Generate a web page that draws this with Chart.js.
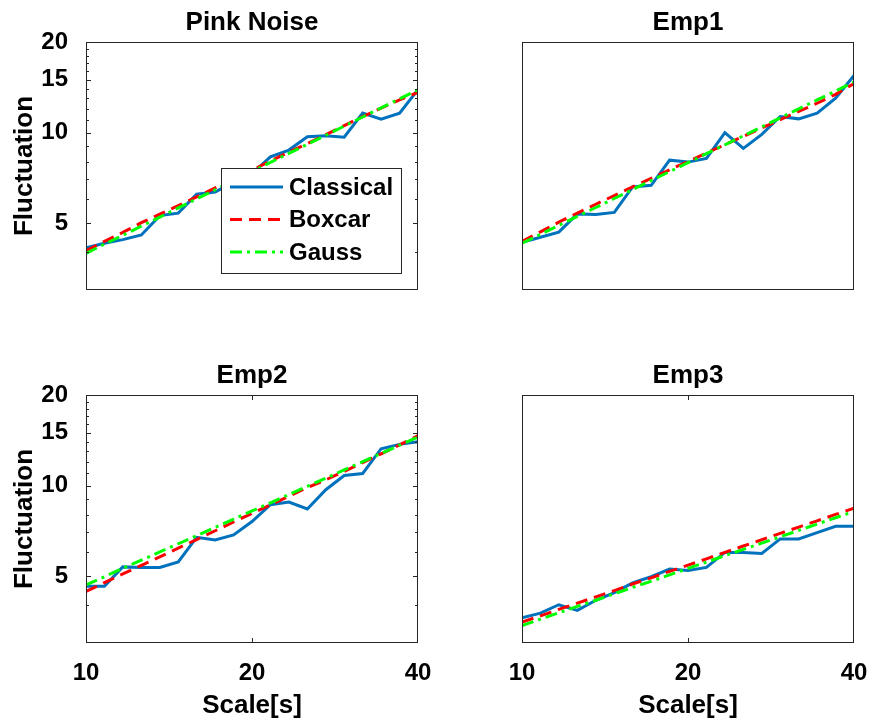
<!DOCTYPE html>
<html>
<head>
<meta charset="utf-8">
<title>Fluctuation vs scale</title>
<script src="https://cdn.jsdelivr.net/npm/chart.js"></script>
<style>
    html, body { margin: 0; padding: 0; background: #fff; }
    #wrap { position: relative; width: 872px; height: 721px; overflow: hidden; }
    #wrap canvas { position: absolute; }
</style>
</head>
<body>
<div id="wrap">
    <canvas id="c0" width="436" height="330" style="left:0;top:0"></canvas>
    <canvas id="c1" width="436" height="330" style="left:436px;top:0"></canvas>
    <canvas id="c2" width="436" height="368" style="left:0;top:353px"></canvas>
    <canvas id="c3" width="436" height="368" style="left:436px;top:353px"></canvas>
</div>
<script>
// Scales (s), log-spaced from 10 to 40
const scales = [10, 10.8, 11.66, 12.6, 13.61, 14.7, 15.87, 17.15, 18.52, 20, 21.6, 23.33, 25.2, 27.22, 29.39, 31.75, 34.29, 37.04, 40];

const xTicks = [10, 20, 40];
const yTicks = [3, 4, 5, 6, 7, 8, 9, 10, 11, 12, 13, 14, 15, 16, 17, 18, 19, 20];
const yLabels = [5, 10, 15, 20];

const seriesNames = ['Classical', 'Boxcar', 'Gauss'];
const panelTitles = ['Pink Noise', 'Emp1', 'Emp2', 'Emp3'];

// Fluctuation values per panel
const pinkClassical = [4.14, 4.29, 4.41, 4.57, 5.30, 5.40, 6.24, 6.35, 6.86, 7.31, 8.31, 8.75, 9.69, 9.77, 9.65, 11.61, 11.08, 11.61, 13.89];
const pinkBoxcar = [4.05, 4.35, 4.66, 5.02, 5.36, 5.72, 6.12, 6.55, 7.00, 7.50, 8.05, 8.62, 9.20, 9.85, 10.55, 11.30, 12.05, 12.85, 13.60];
const pinkGauss = [3.97, 4.26, 4.56, 4.89, 5.24, 5.62, 6.02, 6.46, 6.92, 7.42, 7.96, 8.53, 9.14, 9.80, 10.51, 11.27, 12.08, 12.95, 13.88];

const emp1Classical = [4.32, 4.49, 4.67, 5.37, 5.35, 5.43, 6.60, 6.68, 8.10, 7.98, 8.21, 10.00, 8.86, 9.87, 11.31, 11.11, 11.61, 13.02, 15.47];
const emp1Boxcar = [4.35, 4.68, 5.04, 5.40, 5.78, 6.18, 6.60, 7.05, 7.52, 8.02, 8.55, 9.12, 9.72, 10.36, 11.04, 11.76, 12.52, 13.40, 14.55];
const emp1Gauss = [4.29, 4.59, 4.92, 5.27, 5.64, 6.04, 6.47, 6.93, 7.42, 7.95, 8.51, 9.11, 9.76, 10.45, 11.19, 11.99, 12.84, 13.75, 14.72];

const emp2Classical = [4.63, 4.63, 5.37, 5.35, 5.35, 5.58, 6.73, 6.60, 6.86, 7.60, 8.64, 8.82, 8.36, 9.69, 10.80, 10.97, 13.26, 13.71, 14.00];
const emp2Boxcar = [4.45, 4.76, 5.09, 5.43, 5.80, 6.20, 6.62, 7.08, 7.57, 8.09, 8.63, 9.22, 9.85, 10.45, 11.15, 11.92, 12.75, 13.65, 14.65];
const emp2Gauss = [4.68, 4.98, 5.31, 5.65, 6.02, 6.41, 6.82, 7.27, 7.74, 8.24, 8.77, 9.34, 9.95, 10.59, 11.28, 12.01, 12.79, 13.62, 14.50];

const emp3Classical = [3.64, 3.77, 4.02, 3.85, 4.16, 4.41, 4.75, 4.98, 5.28, 5.22, 5.35, 6.00, 6.00, 5.95, 6.65, 6.65, 6.98, 7.33, 7.33];
const emp3Boxcar = [3.52, 3.69, 3.88, 4.07, 4.27, 4.48, 4.71, 4.94, 5.19, 5.44, 5.71, 6.00, 6.30, 6.61, 6.94, 7.28, 7.64, 8.02, 8.42];
const emp3Gauss = [3.43, 3.60, 3.78, 3.97, 4.16, 4.37, 4.59, 4.81, 5.05, 5.31, 5.57, 5.85, 6.14, 6.44, 6.76, 7.10, 7.45, 7.82, 8.21];

const panelSeries = [
    [pinkClassical, pinkBoxcar, pinkGauss],
    [emp1Classical, emp1Boxcar, emp1Gauss],
    [emp2Classical, emp2Boxcar, emp2Gauss],
    [emp3Classical, emp3Boxcar, emp3Gauss]
];

const lineStyles = [
    { borderColor: '#0072bd', borderDash: [], order: 2 },
    { borderColor: '#ff0000', borderDash: [12, 7], order: 1 },
    { borderColor: '#00ff00', borderDash: [12, 5, 3, 5], order: 0 }
];

const FONT = "'Liberation Sans', Arial, sans-serif";
const AXIS_COLOR = '#262626';
Chart.defaults.font.family = FONT;
Chart.defaults.color = '#000';

// Axes box plus inward tick marks (MATLAB style)
const frameTicks = {
    id: 'frameTicks',
    afterDatasetsDraw(chart, args, opts) {
        const { ctx, chartArea: a, scales: { x, y } } = chart;
        const yMin = y.options.min, yMax = y.options.max;
        const xMin = x.options.min, xMax = x.options.max;
        ctx.save();
        ctx.strokeStyle = AXIS_COLOR;
        ctx.lineWidth = 1;
        ctx.beginPath();
        if (opts.yTicks) {
            y.ticks.forEach(t => {
                if (t.value === yMin || t.value === yMax) return;
                const py = Math.round(y.getPixelForValue(t.value)) + 0.5;
                const len = yLabels.includes(t.value) ? 5 : 3;
                ctx.moveTo(a.left, py); ctx.lineTo(a.left + len, py);
                ctx.moveTo(a.right, py); ctx.lineTo(a.right - len, py);
            });
        }
        if (opts.xTicks) {
            x.ticks.forEach(t => {
                if (t.value === xMin || t.value === xMax) return;
                const px = Math.round(x.getPixelForValue(t.value)) + 0.5;
                ctx.moveTo(px, a.bottom); ctx.lineTo(px, a.bottom - 5);
                ctx.moveTo(px, a.top); ctx.lineTo(px, a.top + 5);
            });
        }
        ctx.stroke();
        ctx.strokeRect(Math.round(a.left) + 0.5, Math.round(a.top) + 0.5,
            Math.round(a.width) - 1, Math.round(a.height) - 1);
        ctx.restore();
    }
};

// Boxed legend sitting inside the first panel
const boxLegend = {
    id: 'boxLegend',
    afterDraw(chart, args, opts) {
        if (!opts.show) return;
        const { ctx, chartArea: a } = chart;
        const left = a.left + 135, top = a.top + 126, w = 180, h = 105;
        ctx.save();
        ctx.fillStyle = '#fff';
        ctx.fillRect(left, top, w, h);
        ctx.strokeStyle = AXIS_COLOR;
        ctx.lineWidth = 1;
        ctx.strokeRect(left + 0.5, top + 0.5, w, h);
        chart.data.datasets.forEach((ds, i) => {
            const cy = top + 19 + i * 32.5;
            ctx.strokeStyle = ds.borderColor;
            ctx.lineWidth = ds.borderWidth;
            ctx.setLineDash(ds.borderDash || []);
            ctx.beginPath();
            ctx.moveTo(left + 9, cy);
            ctx.lineTo(left + 62, cy);
            ctx.stroke();
            ctx.setLineDash([]);
            ctx.fillStyle = '#000';
            ctx.font = 'bold 24px ' + FONT;
            ctx.textBaseline = 'middle';
            ctx.fillText(ds.label, left + 68, cy + 1);
        });
        ctx.restore();
    }
};

function makePanel(index) {
    const isLeft = index % 2 === 0;
    const isBottom = index >= 2;

    const datasets = panelSeries[index].map((values, i) => ({
        label: seriesNames[i],
        data: values.map((v, k) => ({ x: scales[k], y: v })),
        borderColor: lineStyles[i].borderColor,
        borderDash: lineStyles[i].borderDash,
        order: lineStyles[i].order,
        borderWidth: 3,
        pointRadius: 0,
        tension: 0,
        fill: false
    }));

    new Chart(document.getElementById('c' + index), {
        type: 'line',
        data: { datasets },
        plugins: [frameTicks, boxLegend],
        options: {
            responsive: false,
            animation: false,
            events: [],
            layout: { padding: { left: 0, right: 18, top: 0, bottom: 0 } },
            scales: {
                x: {
                    type: 'logarithmic',
                    min: 10,
                    max: 40,
                    afterBuildTicks: (s) => { s.ticks = xTicks.map(v => ({ value: v })); },
                    afterFit: (s) => {
                        s.height = isBottom ? 78 : 40;
                        s.paddingLeft = 0;
                        s.paddingRight = 0;
                    },
                    ticks: {
                        display: isBottom,
                        autoSkip: false,
                        maxRotation: 0,
                        padding: 8,
                        color: '#000',
                        font: { size: 24, weight: 'bold' },
                        callback: (v) => String(v)
                    },
                    grid: { display: false },
                    border: { display: false },
                    title: {
                        display: isBottom,
                        text: 'Scale[s]',
                        color: '#000',
                        font: { size: 26, weight: 'bold' },
                        padding: { top: 0, bottom: 0 }
                    }
                },
                y: {
                    type: 'logarithmic',
                    min: 3,
                    max: 20,
                    afterBuildTicks: (s) => { s.ticks = yTicks.map(v => ({ value: v })); },
                    afterFit: (s) => {
                        s.width = 86;
                        s.paddingTop = 0;
                        s.paddingBottom = 0;
                    },
                    ticks: {
                        display: isLeft,
                        autoSkip: false,
                        padding: 10,
                        color: '#000',
                        font: { size: 24, weight: 'bold' },
                        callback: (v) => yLabels.includes(v) ? String(v) : ''
                    },
                    grid: { display: false },
                    border: { display: false },
                    title: {
                        display: isLeft,
                        text: 'Fluctuation',
                        color: '#000',
                        font: { size: 26, weight: 'bold' },
                        padding: { top: 9, bottom: 0 }
                    }
                }
            },
            plugins: {
                legend: { display: false },
                tooltip: { enabled: false },
                title: {
                    display: true,
                    fullSize: false,
                    text: panelTitles[index],
                    color: '#000',
                    font: { size: 26, weight: 'bold', lineHeight: 1.2 },
                    padding: { top: 7.4, bottom: 3.4 }
                },
                frameTicks: { yTicks: isLeft, xTicks: isBottom },
                boxLegend: { show: index === 0 }
            }
        }
    });
}

[0, 1, 2, 3].forEach(makePanel);
</script>
</body>
</html>
